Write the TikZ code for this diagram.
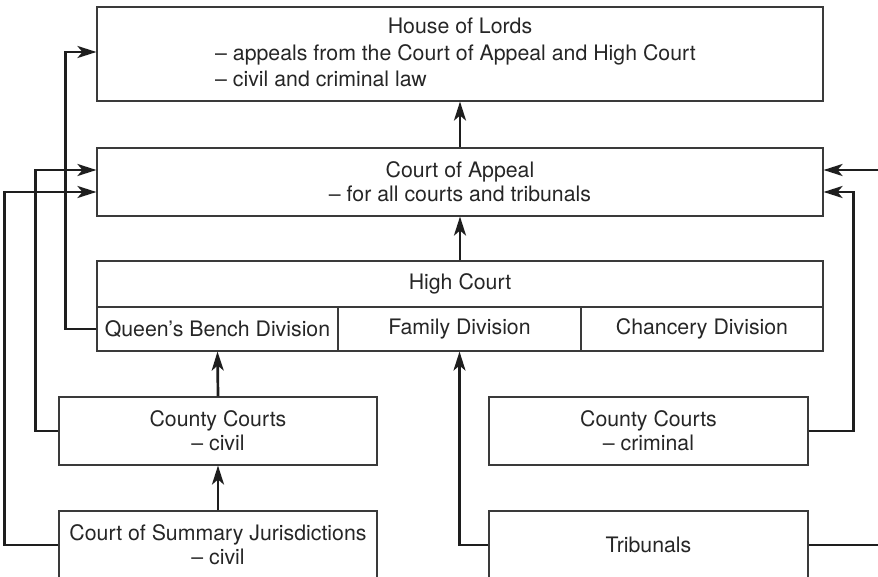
\documentclass[tikz,border=0pt]{standalone}
\usepackage{fontspec}
\setmainfont{TeX Gyre Heros}
\usetikzlibrary{arrows.meta,calc}
\definecolor{boxline}{HTML}{3A3A3A}
\definecolor{textcol}{HTML}{262626}
\definecolor{connline}{HTML}{1E1E1E}
\begin{document}
\begin{tikzpicture}[x=1pt,y=-1pt,
  txt/.style={inner sep=0pt, text=textcol, font=\fontsize{21.3}{24}\selectfont},
  box/.style={draw=boxline, line width=1.1pt, inner sep=0pt, align=center, txt},
  conn/.style={draw=connline, line width=2.7pt, line join=miter},
  arr/.style={conn, -{Stealth[length=19pt,width=12pt,inset=5pt]}}]
\useasboundingbox (0,0) rectangle (878,577);
\clip (0,0) rectangle (878,577);
% House of Lords
\node[box, minimum width=726pt, minimum height=94pt] (hol) at (460,54) {};
\node[txt, anchor=base] (holt) at (460,34) {House of Lords};
\node[txt, anchor=base west] (hola) at (215,60.5) {– appeals from the Court of Appeal and High Court};
\node[txt, anchor=base west] (holb) at (215,87) {– civil and criminal law};
% Court of Appeal
\node[box, minimum width=726pt, minimum height=68pt] (coa) at (460,182) {Court of Appeal\\– for all courts and tribunals};
% High Court
\node[box, minimum width=726pt, minimum height=90pt] (hc) at (460,306) {};
\node[txt] (hct) at (460,284) {High Court};
\node[box, minimum width=241pt, minimum height=44pt] (qb) at (217.5,329) {Queen’s Bench Division};
\node[box, minimum width=243pt, minimum height=44pt] (fam) at (459.5,329) {Family Division};
\node[box, minimum width=242pt, minimum height=44pt] (ch) at (702,329) {Chancery Division};
% lower courts
\node[box, minimum width=318pt, minimum height=68pt] (ccc) at (218,431) {County Courts\\– civil};
\node[box, minimum width=319pt, minimum height=68pt] (ccr) at (648.5,431) {County Courts\\– criminal};
\node[box, minimum width=318pt, minimum height=68pt] (csj) at (218,545) {Court of Summary Jurisdictions\\– civil};
\node[box, minimum width=319pt, minimum height=68pt] (trib) at (648.5,545) {Tribunals};
% vertical appeals
\draw[arr] (coa.north) -- (hol.south);
\draw[arr] (hc.north) -- (coa.south);
\draw[arr] (ccc.north) -- (qb.south);
\draw[arr] (csj.north) -- (ccc.south);
\draw[arr] (trib.west) -| (fam.south);
% side routes
\draw[arr] (qb.west) -- ++(-31,0) |- ([yshift=2pt]hol.west);
\draw[arr] (ccc.west) -- ++(-23,0) |- ([yshift=12pt]coa.west);
\draw[arr] (csj.west) -- ++(-54,0) |- ([yshift=-10pt]coa.west);
\draw[arr] (ccr.east) -- ++(45,0) |- ([yshift=-10pt]coa.east);
\draw[arr] (trib.east) -- ++(80,0) |- ([yshift=12pt]coa.east);
\end{tikzpicture}
\end{document}
